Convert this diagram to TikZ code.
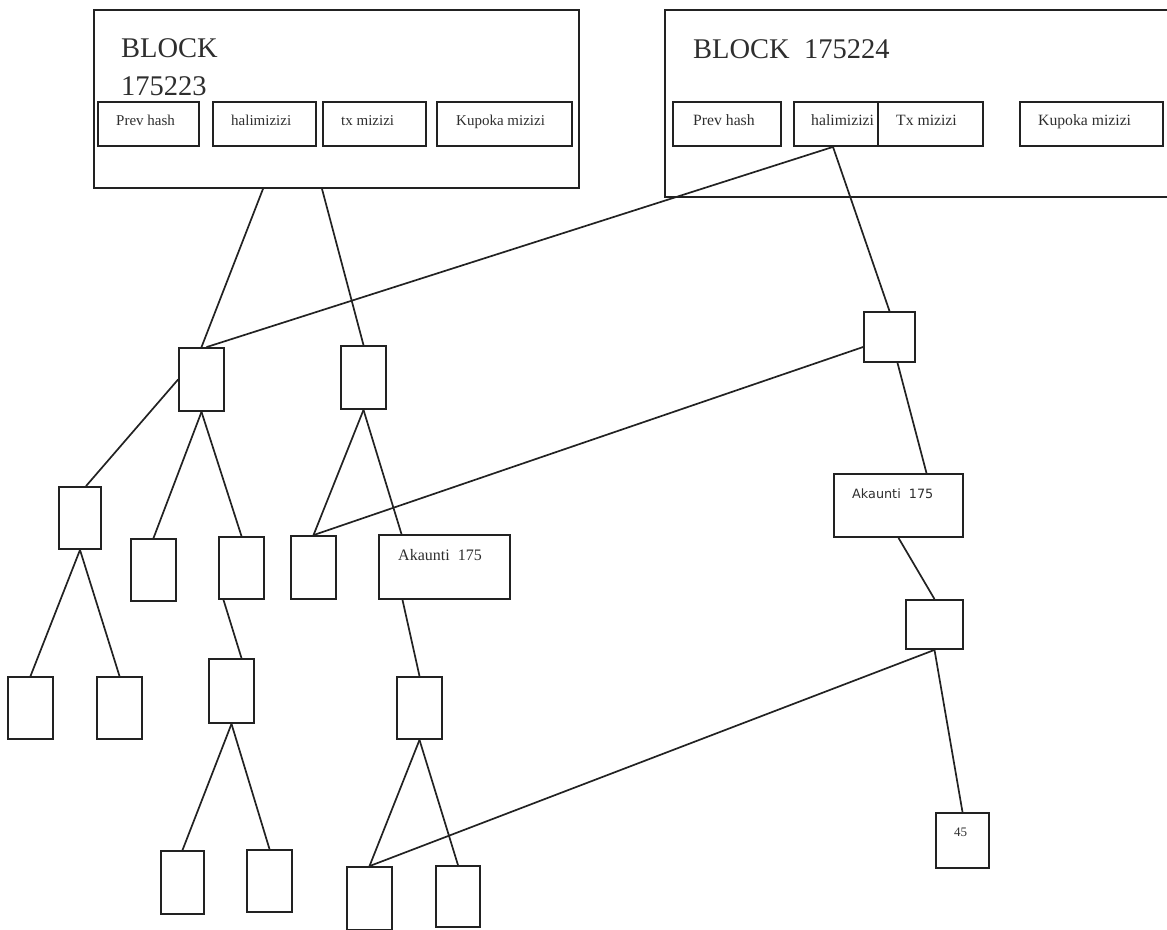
\documentclass[tikz,border=0pt]{standalone}
\usepackage{fontspec}
\setmainfont{Liberation Serif}
\newfontfamily\dejavu{DejaVu Sans}
\definecolor{linec}{HTML}{222222}
\definecolor{textc}{HTML}{2E2E2E}
\begin{document}
\begin{tikzpicture}[x=1pt,y=-1pt,
  box/.style={draw=linec, line width=1.8pt, inner sep=0pt},
  conn/.style={draw=linec, line width=1.7pt},
  lbl/.style={inner sep=0pt, anchor=base west, text=textc, font=\fontsize{15}{18}\selectfont},
  lblb/.style={lbl, font=\fontsize{15.7}{18}\selectfont},
  title/.style={inner sep=0pt, anchor=base west, text=textc, font=\fontsize{28.5}{34}\selectfont}]
\useasboundingbox (0,0) rectangle (1167,929);
% blocks
\node[box, minimum width=485pt, minimum height=178pt] (B1) at (336.5,99) {};
\node[box, minimum width=510pt, minimum height=187pt] (B2) at (920,103.5) {};
\node[box, minimum width=101pt, minimum height=44pt] (s11) at (148.5,124) {};
\node[box, minimum width=103pt, minimum height=44pt] (s12) at (264.5,124) {};
\node[box, minimum width=103pt, minimum height=44pt] (s13) at (374.5,124) {};
\node[box, minimum width=135pt, minimum height=44pt] (s14) at (504.5,124) {};
\node[box, minimum width=108pt, minimum height=44pt] (s21) at (727,124) {};
\node[box, minimum width=84pt, minimum height=44pt] (s22) at (836,124) {};
\node[box, minimum width=105pt, minimum height=44pt] (s23) at (930.5,124) {};
\node[box, minimum width=143pt, minimum height=44pt] (s24) at (1091.5,124) {};
% texts of blocks
\node[title] (t1a) at (121,57) {BLOCK};
\node[title] (t1b) at (121,95) {175223};
\node[title] (t2) at (693,58) {BLOCK\ \ 175224};
\node[lbl] (l11) at (116,125) {Prev hash};
\node[lbl] (l12) at (231,125) {halimizizi};
\node[lbl] (l13) at (341,125) {tx mizizi};
\node[lbl] (l14) at (456,125) {Kupoka mizizi};
\node[lblb] (l21) at (693,125) {Prev hash};
\node[lblb] (l22) at (811,125) {halimizizi};
\node[lblb] (l23) at (896,125) {Tx mizizi};
\node[lblb] (l24) at (1038,125) {Kupoka mizizi};
% tree nodes
\node[box, minimum width=45pt, minimum height=63pt] (A) at (201.5,379.5) {};
\node[box, minimum width=45pt, minimum height=63pt] (B) at (363.5,377.5) {};
\node[box, minimum width=42pt, minimum height=62pt] (C) at (80,518) {};
\node[box, minimum width=45pt, minimum height=62pt] (D) at (153.5,570) {};
\node[box, minimum width=45pt, minimum height=62pt] (E) at (241.5,568) {};
\node[box, minimum width=45pt, minimum height=63pt] (F) at (313.5,567.5) {};
\node[box, minimum width=131pt, minimum height=64pt] (G) at (444.5,567) {};
\node[box, minimum width=51pt, minimum height=50pt] (H) at (889.5,337) {};
\node[box, minimum width=129pt, minimum height=63pt] (I) at (898.5,505.5) {};
\node[box, minimum width=57pt, minimum height=49pt] (J) at (934.5,624.5) {};
\node[box, minimum width=53pt, minimum height=55pt] (K) at (962.5,840.5) {};
\node[box, minimum width=45pt, minimum height=62pt] (M1) at (30.5,708) {};
\node[box, minimum width=45pt, minimum height=62pt] (M2) at (119.5,708) {};
\node[box, minimum width=45pt, minimum height=64pt] (O) at (231.5,691) {};
\node[box, minimum width=43pt, minimum height=63pt] (P1) at (182.5,882.5) {};
\node[box, minimum width=45pt, minimum height=62pt] (P2) at (269.5,881) {};
\node[box, minimum width=45pt, minimum height=62pt] (N) at (419.5,708) {};
\node[box, minimum width=45pt, minimum height=63pt] (L) at (369.5,898.5) {};
\node[box, minimum width=44pt, minimum height=61pt] (Q) at (458,896.5) {};
% texts in tree nodes
\node[lbl, font=\fontsize{16}{19}\selectfont] (tG) at (398,560) {Akaunti\ \ 175};
\node[lbl, font=\dejavu\fontsize{12.8}{15}\selectfont] (tI) at (852,498) {Akaunti\ \ 175};
\node[lbl, font=\fontsize{13}{15}\selectfont] (tK) at (954,836) {45};
% connectors
\draw[conn] ([xshift=-73.5pt]B1.south) -- (A.north);
\draw[conn] ([xshift=-14.5pt]B1.south) -- (B.north);
\draw[conn] ([xshift=-3pt]s22.south) -- ([xshift=5pt]A.north);
\draw[conn] ([xshift=-3pt]s22.south) -- (H.north);
\draw[conn] (A.west) -- ([xshift=6pt]C.north);
\draw[conn] (A.south) -- (D.north);
\draw[conn] (A.south) -- (E.north);
\draw[conn] (B.south) -- (F.north);
\draw[conn] (B.south) -- ([xshift=-43pt]G.north);
\draw[conn] ([yshift=-10pt]H.west) -- (F.north);
\draw[conn] ([xshift=8pt]H.south) -- ([xshift=28pt]I.north);
\draw[conn] (I.south) -- (J.north);
\draw[conn] (J.south) -- (K.north);
\draw[conn] (J.south) -- (L.north);
\draw[conn] (C.south) -- (M1.north);
\draw[conn] (C.south) -- (M2.north);
\draw[conn] ([xshift=-18pt]E.south) -- ([xshift=10pt]O.north);
\draw[conn] (O.south) -- (P1.north);
\draw[conn] (O.south) -- (P2.north);
\draw[conn] ([xshift=-42pt]G.south) -- (N.north);
\draw[conn] (N.south) -- (L.north);
\draw[conn] (N.south) -- (Q.north);
\end{tikzpicture}
\end{document}
